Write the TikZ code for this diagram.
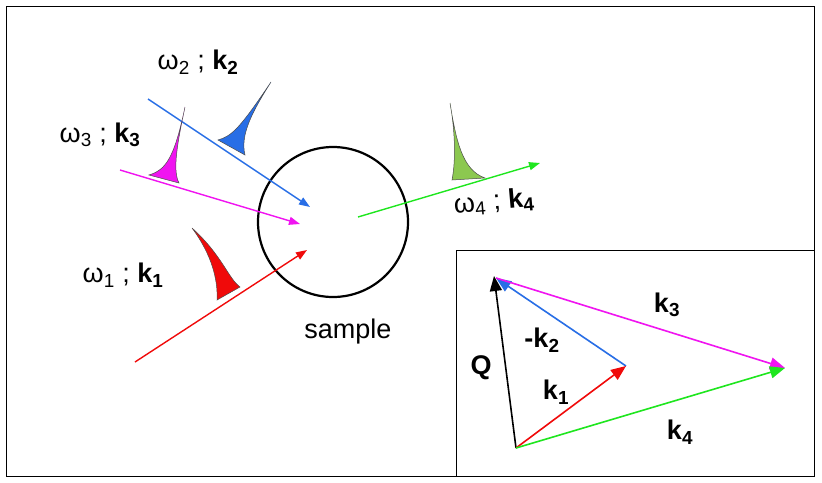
\documentclass[tikz,border=0pt]{standalone}
\usepackage{fontspec}
\setmainfont{Liberation Sans}
\usetikzlibrary{arrows.meta}
\definecolor{cblue}{RGB}{40,110,230}
\definecolor{cmag}{RGB}{240,20,240}
\definecolor{cred}{RGB}{240,10,10}
\definecolor{cgreen}{RGB}{30,230,30}
\definecolor{pgreen}{RGB}{140,200,80}
\begin{document}
\begin{tikzpicture}[x=1pt,y=-1pt,
  beam/.style={line width=1.4pt,-{Triangle[length=11pt,width=8pt]}},
  vec/.style={line width=1.6pt,-{Triangle[length=15pt,width=12pt]}},
  lab/.style={font=\fontsize{27}{30}\selectfont,inner sep=0pt},
  blab/.style={font=\fontsize{27}{30}\selectfont\bfseries,inner sep=0pt},
  pulse/.style={draw=black!70,line width=0.5pt}]
\useasboundingbox (0,0) rectangle (822,482);
\draw[line width=1pt] (6,6) rectangle (814,476);
\draw[line width=1pt,fill=white] (456,250) rectangle (814,476);
% sample
\node[circle,draw,line width=2.2pt,minimum size=150pt,inner sep=0pt] (s) at (333,222) {};
\node[lab] (sl) at (348,332) {sample};
% beam coordinates
\coordinate (b2s) at (148,99);  \coordinate (b2e) at (310,207);
\coordinate (b3s) at (120,170); \coordinate (b3e) at (300,224);
\coordinate (b1s) at (135,362); \coordinate (b1e) at (307,250);
\coordinate (b4s) at (358,217); \coordinate (b4e) at (540,163);
\draw[beam,cblue] (b2s) -- (b2e);
\draw[beam,cmag] (b3s) -- (b3e);
\draw[beam,cred] (b1s) -- (b1e);
\draw[beam,cgreen] (b4s) -- (b4e);
% pulses
\filldraw[pulse,fill=cblue] (218,140) .. controls (232,136) and (240,128) .. (271,82) .. controls (252,112) and (240,135) .. (245,155) -- cycle;
\filldraw[pulse,fill=cmag] (149,175) .. controls (165,170) and (174,160) .. (185,107) .. controls (178,140) and (172,170) .. (179,183) -- cycle;
\filldraw[pulse,fill=cred] (192,228) .. controls (222,255) and (228,278) .. (240,287) -- (217,300) .. controls (218,280) and (212,255) .. cycle;
\filldraw[pulse,fill=pgreen] (450,103) .. controls (456,140) and (462,170) .. (485,178) -- (452,180) .. controls (456,160) and (455,130) .. cycle;
% labels
\node[lab] (l2) at (198,62) {ω\textsubscript{2} ; \textbf{k\textsubscript{2}}};
\node[lab] (l3) at (100,135) {ω\textsubscript{3} ; \textbf{k\textsubscript{3}}};
\node[lab] (l1) at (123,275) {ω\textsubscript{1} ; \textbf{k\textsubscript{1}}};
\node[lab,rotate=5] (l4) at (494,202) {ω\textsubscript{4} ; \textbf{k\textsubscript{4}}};
% inset
\coordinate (O) at (516,448);
\coordinate (Qt) at (494,276);
\coordinate (K1) at (626,366);
\coordinate (K2) at (496,278);
\coordinate (K3) at (785,368);
\draw[vec,black] (O) -- (Qt);
\draw[vec,cblue] (K1) -- (K2);
\draw[vec,cmag] (K2) -- (K3);
\draw[vec,cred] (O) -- (K1);
\draw[vec,cgreen] (O) -- (K3);
\node[blab] (q) at (481,368) {Q};
\node[blab] (lk3) at (667,305) {k\textsubscript{3}};
\node[blab] (lk2) at (542,340) {-k\textsubscript{2}};
\node[blab] (lk1) at (556,392) {k\textsubscript{1}};
\node[blab] (lk4) at (680,432) {k\textsubscript{4}};
\end{tikzpicture}
\end{document}
